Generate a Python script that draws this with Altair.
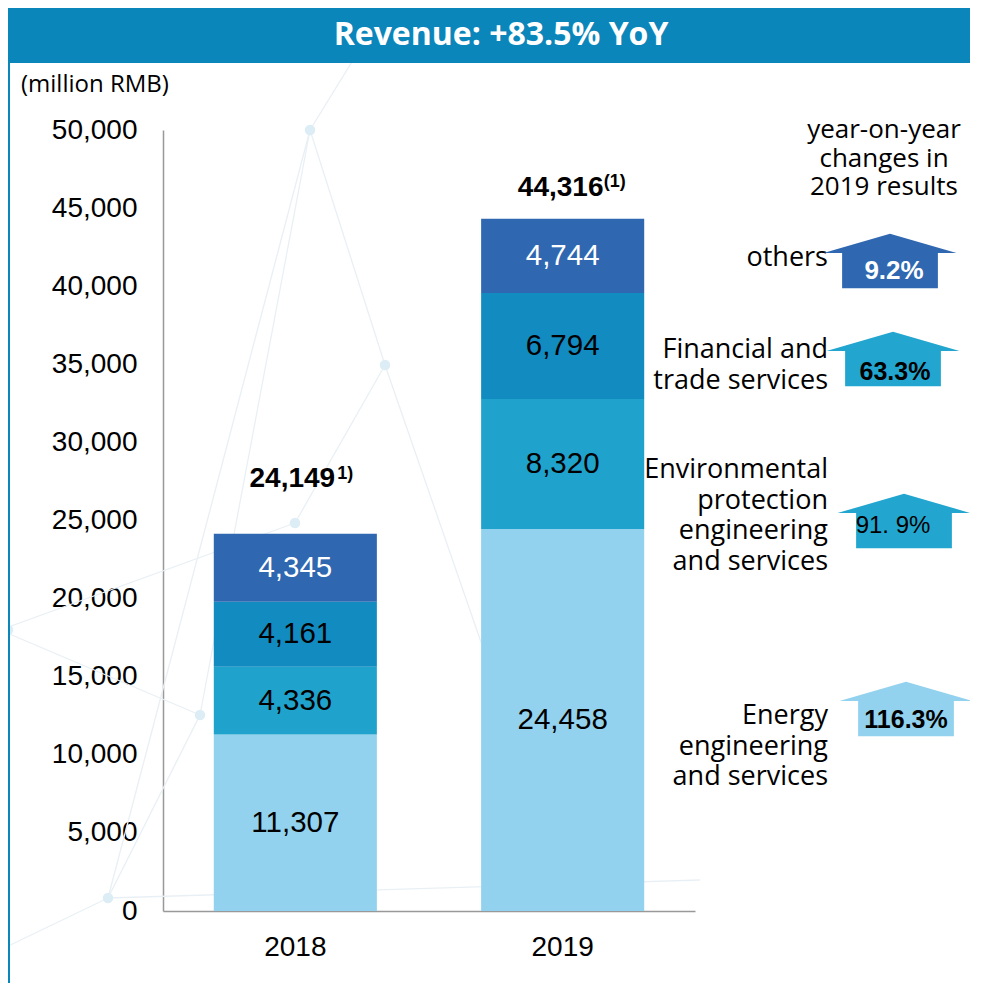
import altair as alt
import pandas as pd

# ---------------- data ----------------
years = ["2018", "2019"]
segments = [
    "Energy engineering and services",
    "Environmental protection engineering and services",
    "Financial and trade services",
    "others",
]
values_2018 = [11307, 4336, 4161, 4345]
values_2019 = [24458, 8320, 6794, 4744]
totals = [24149, 44316]
total_notes = ["1)", "(1)"]
yoy_labels = ["116.3%", "91. 9%", "63.3%", "9.2%"]
segment_label_lines = [
    ["Energy", "engineering", "and services"],
    ["Environmental", "protection", "engineering", "and services"],
    ["Financial and", "trade services"],
    ["others"],
]
y_ticks = list(range(0, 50001, 5000))
title_text = "Revenue: +83.5% YoY"
unit_text = "(million RMB)"
caption_lines = ["year-on-year", "changes in", "2019 results"]

# ---------------- styles ----------------
seg_colors = ["#92D2EE", "#1FA3CD", "#118BC0", "#2F67B1"]
arrow_colors = ["#92D2EE", "#22A6CF", "#22A6CF", "#2F67B1"]
pct_colors = ["black", "black", "black", "white"]
pct_weights = ["bold", "normal", "bold", "bold"]
band_color = "#0B86BA"
deco_color = "#E9F0F5"
NUM_FONT = "Liberation Sans"
TXT_FONT = "Open Sans"

W, H = 532, 781
PAD = {"left": 155, "top": 122, "right": 275, "bottom": 72}
OX, OY = 163, 130  # plot origin on the page

# layout (pixel positions inside plot area) for right-side annotations
label_pos = [(665, 586), (665, 340), (665, 220), (665, 128)]  # first line
arrow_pos = [(743, 579), (741, 391), (730, 229), (727, 131)]
pct_pos = [(743, 590), (730, 396), (732, 242), (731, 141)]
pct_sizes = [25, 24, 25, 26]

# faint background network (page pixel coordinates, decoration only)
deco_lines = [
    ((310, 130), (200, 715)), ((310, 130), (108, 898)), ((310, 130), (385, 365)),
    ((385, 365), (295, 523)), ((0, 630), (295, 523)), ((0, 630), (200, 715)),
    ((108, 898), (700, 880)), ((200, 715), (108, 898)), ((385, 365), (560, 870)),
    ((0, 950), (108, 898)), ((310, 130), (390, 0)),
]
deco_dots = [(310, 130), (385, 365), (295, 523), (200, 715), (108, 898), (8, 630)]

rows = []
for yr, vals in zip(years, [values_2018, values_2019]):
    for i, (seg, v) in enumerate(zip(segments, vals)):
        rows.append({"year": yr, "segment": seg, "value": v, "order": i})
df = pd.DataFrame(rows)
df_tot = pd.DataFrame({"year": years, "total": totals, "note": total_notes})

x_scale = alt.Scale(domain=years, paddingInner=0.39, paddingOuter=0.19)
y_scale = alt.Scale(domain=[0, 50000], nice=False, zero=True)
x_axis = alt.Axis(
    title=None, labelAngle=0, ticks=False, labelPadding=22,
    labelFont=NUM_FONT, labelFontSize=28, labelColor="black",
    domainColor="#999999", domainWidth=1.5,
)
y_axis = alt.Axis(
    values=y_ticks, labelExpr="format(datum.value, ',')", title=None, ticks=False, grid=False,
    labelFont=NUM_FONT, labelFontSize=28, labelColor="black",
    labelPadding=26, domainColor="#999999", domainWidth=1.5,
)

one = pd.DataFrame({"k": [0]})

deco = []
for (x1, y1), (x2, y2) in deco_lines:
    deco.append(
        alt.Chart(one).mark_rule(color=deco_color, strokeWidth=1.3).encode(
            x=alt.value(x1 - OX), y=alt.value(y1 - OY),
            x2=alt.value(x2 - OX), y2=alt.value(y2 - OY),
        )
    )
for (x1, y1) in deco_dots:
    deco.append(
        alt.Chart(one).mark_point(filled=True, size=110, color="#DCEDF6", opacity=1).encode(
            x=alt.value(x1 - OX), y=alt.value(y1 - OY)
        )
    )

bars = alt.Chart(df).mark_bar().encode(
    x=alt.X("year:N", scale=x_scale, axis=x_axis),
    y=alt.Y("value:Q", stack="zero", scale=y_scale, axis=y_axis),
    color=alt.Color("segment:N", scale=alt.Scale(domain=segments, range=seg_colors), legend=None),
    order=alt.Order("order:Q"),
)

seg_text = (
    alt.Chart(df)
    .transform_stack(stack="value", groupby=["year"], sort=[alt.SortField("order")], as_=["y0", "y1"])
    .transform_calculate(mid="(datum.y0 + datum.y1) / 2")
    .mark_text(font=NUM_FONT, fontSize=29.5, baseline="middle", align="center")
    .encode(
        x=alt.X("year:N", scale=x_scale, axis=x_axis),
        y=alt.Y("mid:Q", scale=y_scale, axis=y_axis),
        text=alt.Text("value:Q", format=","),
        color=alt.condition(alt.datum.segment == "others", alt.value("white"), alt.value("black")),
    )
)

tot_layers = []
tot_style = {"2018": (-3, -47, 42, -55), "2019": (-2, -23, 41, -32)}
for yr in years:
    dx, dy, sdx, sdy = tot_style[yr]
    base = alt.Chart(df_tot).transform_filter(alt.datum.year == yr)
    tot_layers.append(
        base.mark_text(font=NUM_FONT, fontSize=28, fontWeight="bold", baseline="alphabetic",
                       align="center", dx=dx, dy=dy, color="black")
        .encode(x=alt.X("year:N", scale=x_scale, axis=x_axis),
                y=alt.Y("total:Q", scale=y_scale, axis=y_axis),
                text=alt.Text("total:Q", format=","))
    )
    tot_layers.append(
        base.mark_text(font=NUM_FONT, fontSize=18, fontWeight="bold", baseline="alphabetic",
                       align="left", dx=sdx, dy=sdy, color="black")
        .encode(x=alt.X("year:N", scale=x_scale, axis=x_axis),
                y=alt.Y("total:Q", scale=y_scale, axis=y_axis),
                text="note:N")
    )

band = alt.Chart(one).mark_rect(color=band_color).encode(
    x=alt.value(-PAD["left"]), x2=alt.value(W + PAD["right"]),
    y=alt.value(-PAD["top"]), y2=alt.value(-67),
)
title = alt.Chart(one).mark_text(
    text=title_text, font=TXT_FONT, fontSize=32, fontWeight="bold", color="white",
    align="center", baseline="middle",
).encode(x=alt.value(338), y=alt.value(-95))
left_line = alt.Chart(one).mark_rule(color=band_color, strokeWidth=2).encode(
    x=alt.value(-154), y=alt.value(-67), y2=alt.value(H + PAD["bottom"]),
)
unit = alt.Chart(one).mark_text(
    text=unit_text, font=TXT_FONT, fontSize=24, color="black", align="left", baseline="middle",
).encode(x=alt.value(-142), y=alt.value(-45))
caption = alt.Chart(one).mark_text(
    text=caption_lines, font=TXT_FONT, fontSize=26, lineHeight=28.5, color="black",
    align="center", baseline="middle",
).encode(x=alt.value(721), y=alt.value(0))

arrow_path = "M0,-0.41 L1,-0.12 L0.72,-0.12 L0.72,0.41 L-0.72,0.41 L-0.72,-0.12 L-1,-0.12 Z"

annot = []
for i in range(len(segments)):
    lx, ly = label_pos[i]
    ax, ay = arrow_pos[i]
    px, py = pct_pos[i]
    annot.append(
        alt.Chart(one).mark_text(
            text=segment_label_lines[i], font=TXT_FONT, fontSize=27, lineHeight=30.5,
            color="black", align="right", baseline="middle",
        ).encode(x=alt.value(lx), y=alt.value(ly))
    )
    annot.append(
        alt.Chart(one).mark_point(
            shape=arrow_path, size=133 * 133, filled=True, opacity=1,
            color=arrow_colors[i], strokeWidth=0,
        ).encode(x=alt.value(ax), y=alt.value(ay))
    )
    annot.append(
        alt.Chart(one).mark_text(
            text=yoy_labels[i], font=NUM_FONT, fontSize=pct_sizes[i], fontWeight=pct_weights[i],
            color=pct_colors[i], align="center", baseline="middle",
        ).encode(x=alt.value(px), y=alt.value(py))
    )

chart = alt.layer(
    *deco, bars, seg_text, *tot_layers,
    band, title, left_line, unit, caption, *annot,
).properties(
    width=W, height=H,
    autosize=alt.AutoSizeParams(type="none"),
    padding=PAD,
    background="white",
).configure_view(stroke=None)

chart.save("out.html", embed_options={"renderer": "svg", "actions": False})
